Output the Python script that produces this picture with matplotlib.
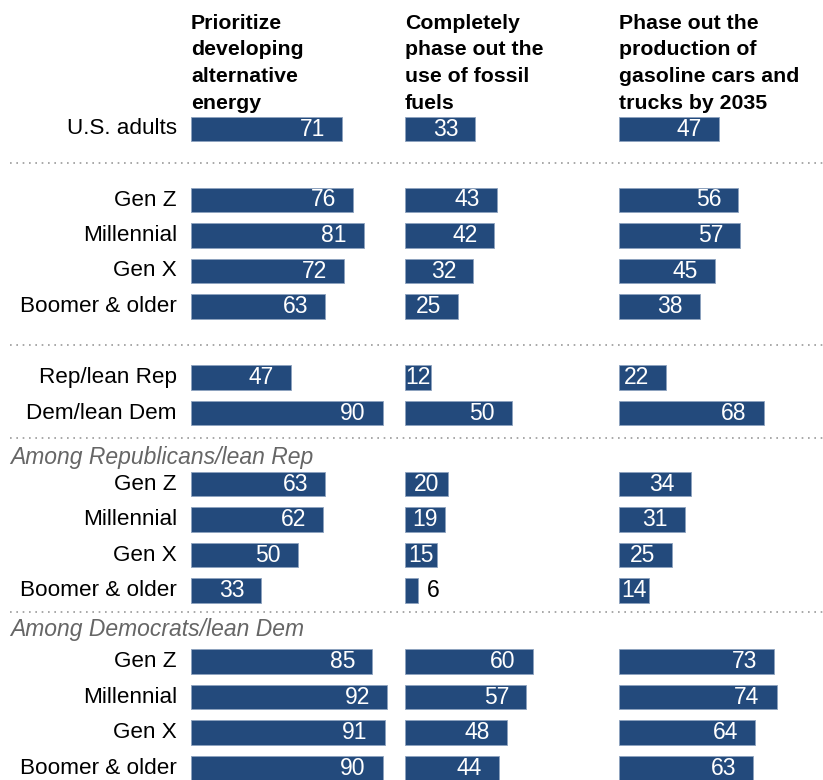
import matplotlib.pyplot as plt

plt.rcParams['font.family'] = ['Liberation Sans', 'DejaVu Sans']

# data
row_labels = ["U.S. adults",
              "Gen Z", "Millennial", "Gen X", "Boomer & older",
              "Rep/lean Rep", "Dem/lean Dem",
              "Gen Z", "Millennial", "Gen X", "Boomer & older",
              "Gen Z", "Millennial", "Gen X", "Boomer & older"]
row_pos = [0, 2, 3, 4, 5, 7, 8, 10, 11, 12, 13, 15, 16, 17, 18]
alt_energy = [71, 76, 81, 72, 63, 47, 90, 63, 62, 50, 33, 85, 92, 91, 90]
fossil_fuels = [33, 43, 42, 32, 25, 12, 50, 20, 19, 15, 6, 60, 57, 48, 44]
gas_cars = [47, 56, 57, 45, 38, 22, 68, 34, 31, 25, 14, 73, 74, 64, 63]
headers = ["Prioritize\ndeveloping\nalternative\nenergy",
           "Completely\nphase out the\nuse of fossil\nfuels",
           "Phase out the\nproduction of\ngasoline cars and\ntrucks by 2035"]
group_labels = ["Among Republicans/lean Rep", "Among Democrats/lean Dem"]
group_pos = [9.24, 14.11]
sep_pos = [0.96, 6.08, 8.70, 13.6]

W, H = 823, 780
ROW0, ROW_PX, UNIT_PX = 129, 35.5, 2.13
ylim = ((H - ROW0) / ROW_PX, -ROW0 / ROW_PX)
BLUE = "#234a7c"

fig = plt.figure(figsize=(W / 100, H / 100), dpi=100)

bg = fig.add_axes([0, 0, 1, 1])
bg.set_xlim(0, W)
bg.set_ylim(*ylim)
bg.axis("off")
bg.hlines(sep_pos, 10, W, colors="#9a9a9a", linewidth=1.2, linestyles=(0, (1, 2.8)))
for lab, y in zip(row_labels, row_pos):
    bg.text(177, y, lab, ha="right", va="center", fontsize=16.2, color="black")
for lab, y in zip(group_labels, group_pos):
    bg.text(10, y, lab, ha="left", va="center", fontsize=16.5, style="italic", color="#666666")

for i, (vals, head) in enumerate(zip([alt_energy, fossil_fuels, gas_cars], headers)):
    left_px = [191, 405, 619][i]
    ax = fig.add_axes([left_px / W, 0, 200 / W, 1])
    ax.set_xlim(0, 200 / UNIT_PX)
    ax.set_ylim(*ylim)
    ax.axis("off")
    ax.patch.set_visible(False)
    ax.barh(row_pos, vals, height=0.7, color=BLUE, edgecolor="#8da2bf", linewidth=0.6)
    for v, y in zip(vals, row_pos):
        if v >= 22:
            ax.text(v - 17 / UNIT_PX, y, str(v), ha="right", va="center", color="white", fontsize=16.5)
        elif v > 7:
            ax.text(v / 2, y, str(v), ha="center", va="center", color="white", fontsize=16.5)
        else:
            ax.text(v + 9 / UNIT_PX, y, str(v), ha="left", va="center", color="black", fontsize=16.5)
    ax.text(0, -0.45, head, ha="left", va="bottom", fontsize=15.3, fontweight="bold",
            linespacing=1.52, clip_on=False)

fig.savefig("out.png", dpi=100)
